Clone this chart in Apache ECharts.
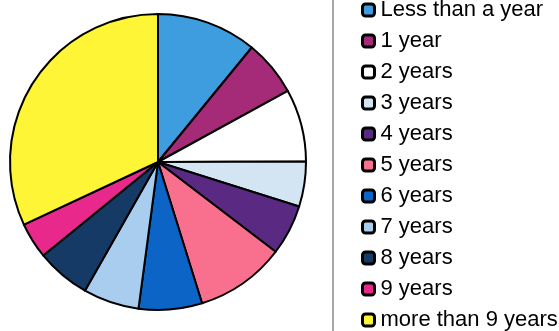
<!DOCTYPE html>
<html>
<head>
<meta charset="utf-8">
<script src="https://cdn.jsdelivr.net/npm/echarts@6/dist/echarts.min.js"></script>
<style>
  html, body { margin: 0; padding: 0; background: #ffffff; }
  #chart { width: 559px; height: 331px; }
</style>
</head>
<body>
<div id="chart"></div>
<script>
// Length of stay groups and their shares (percent)
const categories = [
  'Less than a year', '1 year', '2 years', '3 years', '4 years', '5 years',
  '6 years', '7 years', '8 years', '9 years', 'more than 9 years'
];
const shares = [10.9, 6.1, 7.9, 4.9, 5.5, 9.8, 6.9, 6.1, 5.9, 3.9, 31.9];
const colors = [
  '#3d9ddf', '#a52a78', '#ffffff', '#d3e4f3', '#5a2a82', '#f8708e',
  '#0b64c6', '#a9cdef', '#153a66', '#e8288a', '#fdf535'
];

const chart = echarts.init(document.getElementById('chart'), null, { renderer: 'canvas' });

chart.setOption({
  animation: false,
  backgroundColor: '#ffffff',
  color: colors,
  legend: {
    orient: 'vertical',
    left: 361,
    top: -1,
    padding: 0,
    itemGap: 9,
    itemWidth: 12,
    itemHeight: 12,
    icon: 'roundRect',
    itemStyle: { borderColor: '#000000', borderWidth: 3 },
    textStyle: {
      fontFamily: '"Liberation Sans", Arial, sans-serif',
      fontSize: 22,
      lineHeight: 22,
      color: '#000000',
      padding: [0, 0, 0, 1]
    },
    data: categories
  },
  graphic: [{
    type: 'line',
    shape: { x1: 333, y1: 0, x2: 333, y2: 331 },
    style: { stroke: '#8a8a8a', lineWidth: 1.5 }
  }],
  series: [{
    type: 'pie',
    center: [158, 162],
    radius: 148,
    startAngle: 90,
    clockwise: true,
    label: { show: false },
    labelLine: { show: false },
    itemStyle: { borderColor: '#000000', borderWidth: 2 },
    emphasis: { disabled: true },
    data: categories.map((name, i) => ({ name, value: shares[i] }))
  }]
});
</script>
</body>
</html>
